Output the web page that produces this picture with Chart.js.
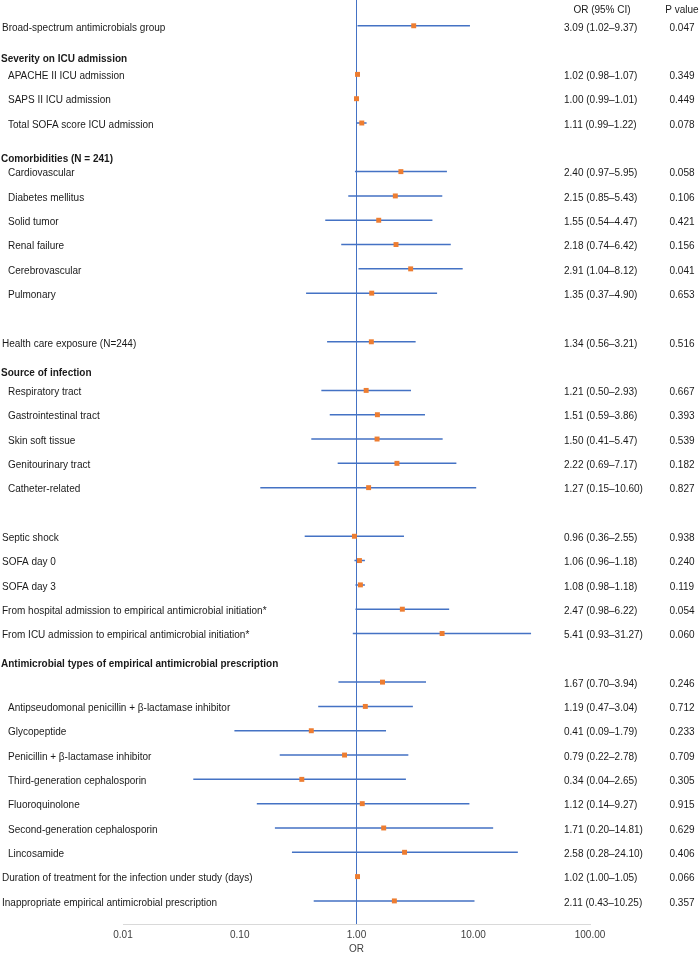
<!DOCTYPE html>
<html>
<head>
<meta charset="utf-8">
<script src="https://cdn.jsdelivr.net/npm/chart.js@4.4.1/dist/chart.umd.min.js"></script>
<style>
  html, body { margin: 0; padding: 0; background: #fff; }
  canvas { display: block; }
</style>
</head>
<body>
<canvas id="forestChart" width="700" height="958"></canvas>
<script>
// Rows of the forest plot (row index counts down from the top)
const rowIndex = [0, 2, 3, 4, 6, 7, 8, 9, 10, 11, 13, 15, 16, 17, 18, 19, 21, 22, 23, 24, 25, 27, 28, 29, 30, 31, 32, 33, 34, 35, 36];
const rowLabels = [
    'Broad-spectrum antimicrobials group',
    'APACHE II ICU admission',
    'SAPS II ICU admission',
    'Total SOFA score ICU admission',
    'Cardiovascular',
    'Diabetes mellitus',
    'Solid tumor',
    'Renal failure',
    'Cerebrovascular',
    'Pulmonary',
    'Health care exposure (N=244)',
    'Respiratory tract',
    'Gastrointestinal tract',
    'Skin soft tissue',
    'Genitourinary tract',
    'Catheter-related',
    'Septic shock',
    'SOFA day 0',
    'SOFA day 3',
    'From hospital admission to empirical antimicrobial initiation*',
    'From ICU admission to empirical antimicrobial initiation*',
    '',
    'Antipseudomonal penicillin + \u03b2-lactamase inhibitor',
    'Glycopeptide',
    'Penicillin + \u03b2-lactamase inhibitor',
    'Third-generation cephalosporin',
    'Fluoroquinolone',
    'Second-generation cephalosporin',
    'Lincosamide',
    'Duration of treatment for the infection under study (days)',
    'Inappropriate empirical antimicrobial prescription'
];
const rowIndented = [false, true, true, true, true, true, true, true, true, true, false, true, true, true, true, true,
    false, false, false, false, false, true, true, true, true, true, true, true, true, false, false];
const oddsRatio = [3.09, 1.02, 1.00, 1.11, 2.40, 2.15, 1.55, 2.18, 2.91, 1.35, 1.34, 1.21, 1.51, 1.50, 2.22, 1.27,
    0.96, 1.06, 1.08, 2.47, 5.41, 1.67, 1.19, 0.41, 0.79, 0.34, 1.12, 1.71, 2.58, 1.02, 2.11];
const ciLow = [1.02, 0.98, 0.99, 0.99, 0.97, 0.85, 0.54, 0.74, 1.04, 0.37, 0.56, 0.50, 0.59, 0.41, 0.69, 0.15,
    0.36, 0.96, 0.98, 0.98, 0.93, 0.70, 0.47, 0.09, 0.22, 0.04, 0.14, 0.20, 0.28, 1.00, 0.43];
const ciHigh = [9.37, 1.07, 1.01, 1.22, 5.95, 5.43, 4.47, 6.42, 8.12, 4.90, 3.21, 2.93, 3.86, 5.47, 7.17, 10.60,
    2.55, 1.18, 1.18, 6.22, 31.27, 3.94, 3.04, 1.79, 2.78, 2.65, 9.27, 14.81, 24.10, 1.05, 10.25];
const pValues = ['0.047', '0.349', '0.449', '0.078', '0.058', '0.106', '0.421', '0.156', '0.041', '0.653', '0.516',
    '0.667', '0.393', '0.539', '0.182', '0.827', '0.938', '0.240', '0.119', '0.054', '0.060', '0.246', '0.712',
    '0.233', '0.709', '0.305', '0.915', '0.629', '0.406', '0.066', '0.357'];

// Bold section headers sit between rows
const headerLabels = ['Severity on ICU admission', 'Comorbidities (N = 241)', 'Source of infection',
    'Antimicrobial types of empirical antimicrobial prescription'];
const headerRow = [1.37, 5.48, 14.29, 26.26];

// X axis
const tickValues = [0.01, 0.1, 1, 10, 100];
const tickLabels = ['0.01', '0.10', '1.00', '10.00', '100.00'];

const FONT = '"Liberation Sans", Arial, sans-serif';
const Y_MIN = -1.06;
const Y_MAX = 36.95;

function fmt(v) {
    return v.toFixed(2);
}

// CI segments separated by gaps
const ciPoints = [];
rowIndex.forEach((r, i) => {
    ciPoints.push({ x: ciLow[i], y: r });
    ciPoints.push({ x: ciHigh[i], y: r });
    ciPoints.push({ x: ciHigh[i], y: null });
});

const textPlugin = {
    id: 'forestText',
    afterDraw(chart) {
        const c = chart.ctx;
        const yScale = chart.scales.y;
        c.save();
        c.fillStyle = '#1a1a1a';
        c.textBaseline = 'middle';

        // column headers
        c.font = '10px ' + FONT;
        c.textAlign = 'center';
        c.fillText('OR (95% CI)', 602, 10);
        c.fillText('P value', 682, 10);

        rowIndex.forEach((r, i) => {
            const y = yScale.getPixelForValue(r) + 2;
            c.textAlign = 'left';
            c.fillText(rowLabels[i], rowIndented[i] ? 8 : 2, y);
            c.fillText(fmt(oddsRatio[i]) + ' (' + fmt(ciLow[i]) + '\u2013' + fmt(ciHigh[i]) + ')', 564, y);
            c.textAlign = 'center';
            c.fillText(pValues[i], 682, y);
        });

        c.font = 'bold 10px ' + FONT;
        c.textAlign = 'left';
        headerLabels.forEach((h, i) => {
            c.fillText(h, 1, yScale.getPixelForValue(headerRow[i]));
        });
        c.restore();
    }
};

const ctx = document.getElementById('forestChart').getContext('2d');
const forestChart = new Chart(ctx, {
    type: 'scatter',
    data: {
        datasets: [{
            label: 'OR',
            data: rowIndex.map((r, i) => ({ x: oddsRatio[i], y: r })),
            pointStyle: 'rect',
            pointRadius: 3.5,
            pointBackgroundColor: '#ed7d31',
            pointBorderWidth: 0
        }, {
            label: '95% CI',
            data: ciPoints,
            showLine: true,
            spanGaps: false,
            borderColor: '#4472c4',
            borderWidth: 1.5,
            pointRadius: 0
        }, {
            label: 'OR = 1',
            data: [{ x: 1, y: Y_MIN }, { x: 1, y: Y_MAX }],
            showLine: true,
            borderColor: '#4472c4',
            borderWidth: 1,
            pointRadius: 0
        }]
    },
    options: {
        responsive: false,
        animation: false,
        layout: {
            autoPadding: false,
            padding: { left: 123, right: 110, top: 0, bottom: 0 }
        },
        plugins: {
            legend: { display: false },
            tooltip: { enabled: false }
        },
        scales: {
            x: {
                type: 'logarithmic',
                min: 0.01,
                max: 100,
                afterBuildTicks: (scale) => {
                    scale.ticks = tickValues.map(v => ({ value: v }));
                },
                afterFit: (scale) => {
                    scale.height = 34;
                },
                grid: { display: false, drawTicks: false },
                border: { display: true, color: '#d9d9d9', width: 1 },
                ticks: {
                    autoSkip: false,
                    maxRotation: 0,
                    padding: 5,
                    color: '#404040',
                    font: { family: FONT, size: 10 },
                    callback: (value) => tickLabels[tickValues.indexOf(value)]
                },
                title: {
                    display: true,
                    text: 'OR',
                    color: '#404040',
                    font: { family: FONT, size: 10 },
                    padding: { top: 0, bottom: 3 }
                }
            },
            y: {
                type: 'linear',
                reverse: true,
                min: Y_MIN,
                max: Y_MAX,
                display: false
            }
        }
    },
    plugins: [textPlugin]
});
</script>
</body>
</html>
